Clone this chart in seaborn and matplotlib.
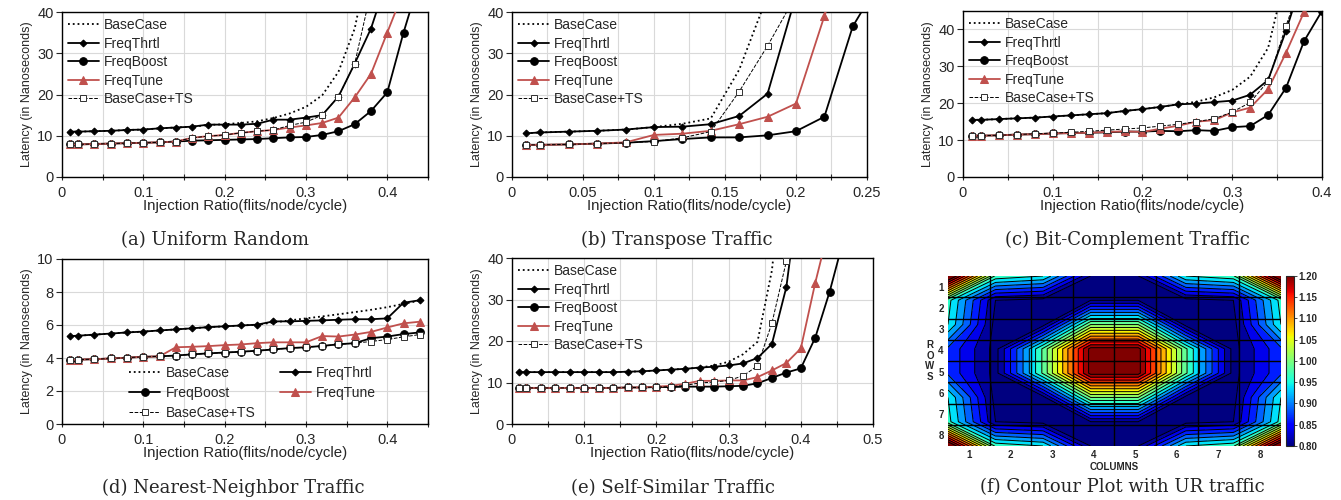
import numpy as np
import matplotlib
matplotlib.use("Agg")
import matplotlib.pyplot as plt
import matplotlib.colors as mcolors
from matplotlib import cm
from matplotlib.ticker import MultipleLocator, FuncFormatter
import seaborn as sns

sns.set_style("ticks")
plt.rcParams["font.family"] = ["Liberation Sans", "DejaVu Sans"]

#Injection ratios
ur_x = [0.01, 0.02, 0.04, 0.06, 0.08, 0.10, 0.12, 0.14, 0.16, 0.18, 0.20, 0.22,
        0.24, 0.26, 0.28, 0.30, 0.32, 0.34, 0.36, 0.38, 0.40, 0.42, 0.44]
tp_x = [0.01, 0.02, 0.04, 0.06, 0.08, 0.10, 0.12, 0.14, 0.16, 0.18, 0.20, 0.22, 0.24, 0.26]
ss_x = ur_x + [0.46]

#(a) Uniform Random
ur_base = [11.0, 11.0, 11.1, 11.2, 11.4, 11.5, 11.8, 12.0, 12.2, 12.6, 12.8, 13.1, 13.5, 14.3, 15.4, 17.0, 19.8, 25.5, 36.0, 55.0]
ur_thrtl = [11.0, 11.0, 11.1, 11.2, 11.4, 11.5, 11.8, 12.0, 12.2, 12.7, 12.7, 12.7, 12.9, 13.9, 13.9, 14.4, 15.0, 19.5, 27.5, 36.0, 48.0]
ur_boost = [7.9, 7.9, 8.0, 8.1, 8.2, 8.3, 8.4, 8.6, 8.8, 8.9, 9.0, 9.1, 9.2, 9.4, 9.6, 9.7, 10.2, 11.1, 12.8, 16.0, 20.5, 35.0, 48.0]
ur_tune = [7.9, 7.9, 8.0, 8.1, 8.2, 8.3, 8.4, 8.6, 9.5, 9.9, 10.2, 10.7, 11.1, 11.4, 12.0, 12.5, 13.1, 14.4, 19.3, 25.0, 35.0, 45.0]
ur_ts = [7.9, 7.9, 8.0, 8.1, 8.2, 8.3, 8.4, 8.6, 9.5, 9.9, 10.2, 10.7, 11.1, 11.4, 12.5, 13.3, 15.0, 19.5, 27.5, 45.0]

#(b) Transpose
tp_base = [10.6, 10.8, 11.0, 11.2, 11.5, 12.1, 12.9, 14.2, 26.0, 44.0]
tp_thrtl = [10.6, 10.8, 11.0, 11.2, 11.5, 12.1, 12.2, 12.8, 14.8, 20.2, 44.0]
tp_boost = [7.8, 7.8, 7.9, 8.1, 8.3, 8.7, 9.2, 9.6, 9.6, 10.1, 11.1, 14.6, 36.5, 48.0]
tp_tune = [7.8, 7.8, 7.9, 8.1, 8.4, 10.2, 10.5, 11.2, 12.8, 14.6, 17.8, 39.0, 60.0]
tp_ts = [7.8, 7.8, 7.9, 8.1, 8.3, 8.6, 9.5, 11.0, 20.7, 31.8, 44.0]

#(c) Bit-Complement
bc_base = [15.5, 15.5, 15.7, 15.9, 16.1, 16.4, 16.7, 17.0, 17.3, 17.9, 18.4, 19.0, 19.7, 20.4, 21.6, 23.6, 27.2, 35.0, 55.0]
bc_thrtl = [15.5, 15.5, 15.7, 15.9, 16.1, 16.4, 16.7, 17.0, 17.3, 17.9, 18.4, 19.0, 19.7, 19.9, 20.3, 20.7, 22.3, 26.3, 39.7, 55.0]
bc_boost = [11.2, 11.2, 11.3, 11.5, 11.6, 11.8, 11.9, 12.0, 12.1, 12.3, 12.3, 12.5, 12.4, 12.7, 12.5, 13.5, 13.8, 16.8, 24.2, 36.8, 45.0]
bc_tune = [11.2, 11.2, 11.3, 11.5, 11.6, 11.8, 11.9, 12.0, 12.2, 12.4, 12.2, 13.1, 13.9, 15.0, 15.4, 17.5, 18.8, 23.8, 33.7, 44.7]
bc_ts = [11.2, 11.2, 11.3, 11.5, 11.7, 11.9, 12.1, 12.4, 12.7, 13.0, 13.3, 13.8, 14.3, 15.0, 15.8, 17.6, 20.2, 26.0, 41.0, 55.0]

#(d) Nearest-Neighbor
nn_base = [5.33, 5.35, 5.42, 5.48, 5.55, 5.60, 5.67, 5.73, 5.80, 5.87, 5.92, 5.97, 6.02, 6.15, 6.28, 6.40, 6.52, 6.65, 6.78, 6.92, 7.08, 7.28, 7.48]
nn_thrtl = [5.33, 5.35, 5.42, 5.48, 5.55, 5.60, 5.67, 5.73, 5.80, 5.87, 5.92, 5.97, 6.02, 6.22, 6.22, 6.25, 6.28, 6.32, 6.35, 6.35, 6.40, 7.35, 7.50]
nn_boost = [3.88, 3.90, 3.93, 3.97, 4.02, 4.07, 4.10, 4.15, 4.22, 4.28, 4.33, 4.38, 4.44, 4.52, 4.60, 4.65, 4.73, 4.83, 4.90, 5.20, 5.30, 5.45, 5.55]
nn_tune = [3.88, 3.90, 3.93, 3.97, 4.02, 4.07, 4.10, 4.65, 4.68, 4.72, 4.78, 4.82, 4.90, 4.95, 4.95, 4.95, 5.33, 5.30, 5.42, 5.58, 5.85, 6.10, 6.20]
nn_ts = [3.88, 3.90, 3.93, 3.97, 4.02, 4.07, 4.10, 4.15, 4.22, 4.28, 4.33, 4.38, 4.44, 4.52, 4.60, 4.65, 4.73, 4.83, 4.90, 5.00, 5.12, 5.28, 5.42]

#(e) Self-Similar
ss_base = [12.5, 12.5, 12.5, 12.5, 12.5, 12.5, 12.5, 12.5, 12.6, 12.7, 12.9, 13.1, 13.3, 13.6, 14.1, 15.0, 16.8, 19.8, 37.0, 70.0]
ss_thrtl = [12.5, 12.5, 12.5, 12.5, 12.5, 12.5, 12.5, 12.5, 12.6, 12.7, 12.9, 13.1, 13.3, 13.6, 13.8, 14.1, 14.6, 15.9, 19.3, 33.0, 60.0]
ss_boost = [8.7, 8.7, 8.7, 8.7, 8.7, 8.7, 8.7, 8.7, 8.8, 8.8, 8.9, 8.9, 9.0, 9.0, 9.0, 9.1, 9.2, 9.8, 11.1, 12.4, 13.4, 20.8, 31.9, 45.0]
ss_tune = [8.7, 8.7, 8.7, 8.7, 8.7, 8.7, 8.7, 8.7, 8.8, 8.8, 9.0, 9.2, 9.7, 10.4, 10.4, 10.5, 10.5, 11.3, 12.9, 14.7, 18.2, 34.0, 48.0]
ss_ts = [8.7, 8.7, 8.7, 8.7, 8.7, 8.7, 8.7, 8.7, 8.8, 8.8, 8.9, 9.0, 9.3, 9.9, 10.1, 10.5, 11.6, 14.0, 24.3, 39.2, 60.0]

#(f) Router load on the 8x8 mesh (rows top to bottom, columns left to right)
ur_load = [
    [1.25, 0.97, 0.95, 0.80, 0.80, 0.95, 0.97, 1.25],
    [0.96, 0.80, 0.79, 0.80, 0.80, 0.79, 0.80, 0.96],
    [0.95, 0.79, 0.79, 1.00, 1.00, 0.79, 0.79, 0.95],
    [0.87, 0.79, 0.98, 1.21, 1.21, 0.98, 0.79, 0.87],
    [0.87, 0.79, 0.98, 1.21, 1.21, 0.98, 0.79, 0.87],
    [0.95, 0.79, 0.79, 1.00, 1.00, 0.79, 0.79, 0.95],
    [0.96, 0.80, 0.79, 0.80, 0.80, 0.79, 0.80, 0.96],
    [1.25, 0.97, 0.95, 0.80, 0.80, 0.95, 0.97, 1.25],
]
mesh_labels = ["1", "2", "3", "4", "5", "6", "7", "8"]

RED = "#C0504D"
styles = {
    "BaseCase": dict(color="black", linestyle=":", linewidth=1.3, zorder=3),
    "FreqThrtl": dict(color="black", linestyle="-", linewidth=1.3, marker="D", markersize=3.5,
                      markeredgecolor="black", zorder=4),
    "FreqBoost": dict(color="black", linestyle="-", linewidth=1.3, marker="o", markersize=5.5,
                      markeredgecolor="black", zorder=4),
    "FreqTune": dict(color=RED, linestyle="-", linewidth=1.3, marker="^", markersize=5.5,
                     markeredgecolor=RED, zorder=5),
    "BaseCase+TS": dict(color="black", linestyle="--", linewidth=0.7, marker="s", markersize=4.5,
                        markerfacecolor="white", markeredgecolor="#303030", markeredgewidth=0.7, zorder=6),
}

tick_fmt = FuncFormatter(lambda v, p: "{:g}".format(round(v, 3)))


def draw_panel(ax, x, series, xmax, xmajor, xminor, ymax, ymajor):
    for name, y in series:
        sns.lineplot(x=x[:len(y)], y=y, ax=ax, label=name, **styles[name])
    ax.set_xlim(0, xmax)
    ax.set_ylim(0, ymax)
    ax.xaxis.set_major_locator(MultipleLocator(xmajor))
    ax.xaxis.set_minor_locator(MultipleLocator(xminor))
    ax.yaxis.set_major_locator(MultipleLocator(ymajor))
    ax.xaxis.set_major_formatter(tick_fmt)
    ax.grid(True, which="both", axis="x", color="#d9d9d9", linewidth=0.8)
    ax.grid(True, which="major", axis="y", color="#d9d9d9", linewidth=0.8)
    ax.set_axisbelow(True)
    ax.tick_params(axis="x", which="both", direction="inout", length=5, width=0.8, labelsize=10.5, pad=4)
    ax.tick_params(axis="y", which="major", direction="out", length=4, width=0.8, labelsize=10.5, pad=2)
    for sp in ax.spines.values():
        sp.set_color("black")
        sp.set_linewidth(1.0)
    ax.set_xlabel("Injection Ratio(flits/node/cycle)", fontsize=10.8, labelpad=-1)
    ax.set_ylabel("Latency (in Nanoseconds)", fontsize=9, labelpad=3)


fig = plt.figure(figsize=(13.41, 5.0), dpi=100)

ax_a = fig.add_axes([0.0462, 0.646, 0.2729, 0.330])
draw_panel(ax_a, ur_x, [("BaseCase", ur_base), ("FreqThrtl", ur_thrtl), ("FreqBoost", ur_boost),
                        ("FreqTune", ur_tune), ("BaseCase+TS", ur_ts)], 0.45, 0.1, 0.05, 40, 10)

ax_b = fig.add_axes([0.3818, 0.646, 0.2647, 0.330])
draw_panel(ax_b, tp_x, [("BaseCase", tp_base), ("FreqThrtl", tp_thrtl), ("FreqBoost", tp_boost),
                        ("FreqTune", tp_tune), ("BaseCase+TS", tp_ts)], 0.25, 0.05, 0.025, 40, 10)

ax_c = fig.add_axes([0.7181, 0.646, 0.2677, 0.332])
draw_panel(ax_c, ur_x, [("BaseCase", bc_base), ("FreqThrtl", bc_thrtl), ("FreqBoost", bc_boost),
                        ("FreqTune", bc_tune), ("BaseCase+TS", bc_ts)], 0.4, 0.1, 0.05, 45, 10)

ax_d = fig.add_axes([0.0462, 0.152, 0.2729, 0.330])
draw_panel(ax_d, ur_x, [("BaseCase", nn_base), ("FreqThrtl", nn_thrtl), ("FreqBoost", nn_boost),
                        ("FreqTune", nn_tune), ("BaseCase+TS", nn_ts)], 0.45, 0.1, 0.05, 10, 2)

ax_e = fig.add_axes([0.3818, 0.152, 0.2692, 0.332])
draw_panel(ax_e, ss_x, [("BaseCase", ss_base), ("FreqThrtl", ss_thrtl), ("FreqBoost", ss_boost),
                        ("FreqTune", ss_tune), ("BaseCase+TS", ss_ts)], 0.5, 0.1, 0.05, 40, 10)

for ax in [ax_a, ax_b, ax_c, ax_e]:
    ax.legend(loc="upper left", frameon=False, fontsize=10, handlelength=2.2, handletextpad=0.4,
              labelspacing=0.32, borderaxespad=0.2, borderpad=0.25)

#Two-column legend for (d)
h, l = ax_d.get_legend_handles_labels()
order = [0, 2, 4, 1, 3]
ax_d.legend([h[i] for i in order], [l[i] for i in order], ncol=2, loc="lower left",
            bbox_to_anchor=(0.15, -0.05), frameon=False, fontsize=10, handlelength=2.2,
            handletextpad=0.4, labelspacing=0.42, columnspacing=1.8)

#(f) contour plot
ax_f = fig.add_axes([0.7069, 0.108, 0.2483, 0.340])
nodes = np.linspace(0.5, 8.5, 8)
Z = np.array(ur_load)
levels = np.arange(0.8, 1.2001, 0.025)
ax_f.contourf(nodes, nodes, Z, levels=levels, cmap="jet", extend="both")
ax_f.contour(nodes, nodes, Z, levels=levels, colors="black", linewidths=0.7)
for g in np.arange(1.5, 8.0, 1.0):
    ax_f.axvline(g, color="black", linewidth=1.0)
    ax_f.axhline(g, color="black", linewidth=1.0)
ax_f.set_xlim(0.5, 8.5)
ax_f.set_ylim(8.5, 0.5)
ax_f.set_xticks(range(1, 9))
ax_f.set_yticks(range(1, 9))
ax_f.set_xticklabels(mesh_labels, fontsize=7, fontweight="bold")
ax_f.set_yticklabels(mesh_labels, fontsize=7, fontweight="bold")
ax_f.tick_params(length=0, pad=3)
ax_f.set_xlabel("COLUMNS", fontsize=7, fontweight="bold", labelpad=1)
ax_f.set_ylabel("R\nO\nW\nS", fontsize=7, fontweight="bold", rotation=0, va="center",
                labelpad=6, linespacing=1.1)
for sp in ax_f.spines.values():
    sp.set_visible(False)

cax = fig.add_axes([0.9590, 0.108, 0.0060, 0.340])
sm = cm.ScalarMappable(norm=mcolors.Normalize(0.8, 1.2), cmap="jet")
cb = fig.colorbar(sm, cax=cax, ticks=np.arange(0.8, 1.2001, 0.05), format="%.2f")
cb.ax.tick_params(labelsize=7, length=2, width=0.6, pad=1)
for t in cb.ax.get_yticklabels():
    t.set_fontweight("bold")
cb.outline.set_linewidth(0.8)

#Sub-figure captions
cap = dict(ha="center", va="center", fontsize=13, family="DejaVu Serif")
fig.text(215 / 1341, 1 - 240 / 500, "(a) Uniform Random", **cap)
fig.text(677 / 1341, 1 - 240 / 500, "(b) Transpose Traffic", **cap)
fig.text(1127 / 1341, 1 - 240 / 500, "(c) Bit-Complement Traffic", **cap)
fig.text(233 / 1341, 1 - 488 / 500, "(d) Nearest-Neighbor Traffic", **cap)
fig.text(673 / 1341, 1 - 488 / 500, "(e) Self-Similar Traffic", **cap)
fig.text(1122 / 1341, 1 - 487 / 500, "(f) Contour Plot with UR traffic", **cap)

fig.savefig("out.png", dpi=100)
